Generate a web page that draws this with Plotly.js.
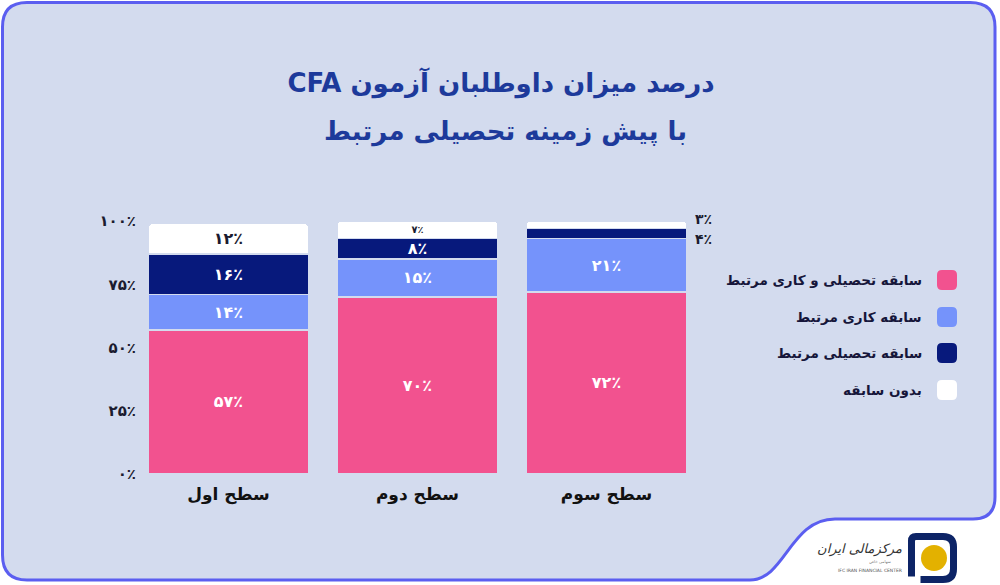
<!DOCTYPE html>
<html>
<head>
<meta charset="utf-8">
<script src="https://cdn.plot.ly/plotly-3.0.1.min.js"></script>
<style>
  html, body { margin:0; padding:0; background:#ffffff; width:1000px; height:585px; overflow:hidden; }
  #bg { position:absolute; left:0; top:0; }
  #chart { position:absolute; left:0; top:0; width:1000px; height:585px; }
</style>
</head>
<body>
<svg id="bg" width="1000" height="585" xmlns="http://www.w3.org/2000/svg">
  <path d="M 27 2.5 H 970 Q 995 2.5 995 27 V 497 Q 995 519 973 519 H 835 C 790 519, 785 580, 750 580 H 27 Q 2.5 580 2.5 555 V 27 Q 2.5 2.5 27 2.5 Z"
        fill="#d3dbee" stroke="#5b5ef0" stroke-width="3"/>
  <!-- logo -->
  <path d="M 911.5 573 V 541 Q 911.5 536.5 916 536.5 H 943 Q 953.5 536.5 953.5 547 V 569 Q 953.5 579.5 943 579.5 H 924"
        fill="none" stroke="#0d2466" stroke-width="7" stroke-linecap="square"/>
  <circle cx="934" cy="558" r="13" fill="#e3b100"/>
  <text x="902" y="553" text-anchor="end" font-family="DejaVu Sans" font-size="13" fill="#333" font-style="italic">مرکزمالی ایران</text>
  <text x="880" y="563" text-anchor="middle" font-family="DejaVu Sans" font-size="4" fill="#777">سهامی خاص</text>
  <text x="870" y="572" text-anchor="middle" font-family="DejaVu Sans" font-size="4.5" fill="#555">IFC IRAN FINANCIAL CENTER</text>
</svg>
<div id="chart"></div>
<script>
// ---- data ----
const categories = ['سطح اول', 'سطح دوم', 'سطح سوم'];
const bothRelated = [57, 70, 72];   // سابقه تحصیلی و کاری مرتبط
const workRelated = [14, 15, 21];   // سابقه کاری مرتبط
const eduRelated  = [16, 8, 4];     // سابقه تحصیلی مرتبط
const noBackground = [12, 7, 3];    // بدون سابقه
const seriesNames = ['سابقه تحصیلی و کاری مرتبط', 'سابقه کاری مرتبط', 'سابقه تحصیلی مرتبط', 'بدون سابقه'];
const yTickVals = [0, 25, 50, 75, 100];
const titleLine1 = 'درصد میزان داوطلبان آزمون CFA';
const titleLine2 = 'با پیش زمینه تحصیلی مرتبط';

// ---- styles ----
const seriesValues = [bothRelated, workRelated, eduRelated, noBackground];
const seriesColors = ['#f2528f', '#7593fb', '#07197c', '#ffffff'];
const textColors = ['#ffffff', '#ffffff', '#ffffff', '#1b1b2f'];
const bgColor = '#d3dbee';
const FONT = 'DejaVu Sans, sans-serif';

const faDigits = s => String(s).replace(/\d/g, d => '۰۱۲۳۴۵۶۷۸۹'[d]);
const pct = v => faDigits(v) + '٪';
const rtl = s => '\u202B' + s + '\u202C';

// pixel geometry of plot area
const L = 140, R = 701, T = 221, B = 474;
const px = x => (x - L) / (R - L);
const py = y => (B - y) / (B - T);

const barWidth = 0.85;
const traces = seriesValues.map((vals, i) => ({
  type: 'bar',
  name: seriesNames[i],
  x: categories.map((c, k) => k),
  y: vals,
  width: barWidth,
  marker: { color: seriesColors[i], line: { color: bgColor, width: 1.5 }, cornerradius: 4 },
  text: vals.map(v => v < 5 ? '' : pct(v)),
  textposition: 'inside',
  insidetextanchor: 'middle',
  textangle: 0,
  constraintext: 'none',
  textfont: { family: FONT, size: 16, color: textColors[i], weight: 'bold' },
  hoverinfo: 'skip',
  showlegend: false
}));

const annotations = [];
// small values shown outside at the right
seriesValues.forEach((vals, i) => {
  vals.forEach((v, k) => {
    if (v < 5) {
      let base = 0;
      for (let j = 0; j < i; j++) base += seriesValues[j][k];
      annotations.push({
        x: k + barWidth / 2, y: base + v / 2, xref: 'x', yref: 'y',
        text: pct(v), showarrow: false, xanchor: 'left', yanchor: 'middle',
        xshift: 6, yshift: (i === 3 ? 6 : -5),
        font: { family: FONT, size: 14, color: '#1b1b2f', weight: 'bold' }
      });
    }
  });
});

// title line 2
annotations.push({
  xref: 'paper', yref: 'paper', x: px(505), y: py(131),
  text: rtl(titleLine2), showarrow: false, xanchor: 'center', yanchor: 'middle',
  font: { family: FONT, size: 26, color: '#1d3a9b', weight: 'bold' }
});

// legend (swatch to the right of text)
const legendRowsY = [280, 317, 353, 390];
const shapes = [];
seriesNames.forEach((n, i) => {
  annotations.push({
    xref: 'paper', yref: 'paper', x: px(924), y: py(legendRowsY[i]),
    text: rtl(n), showarrow: false, xanchor: 'right', yanchor: 'middle',
    font: { family: FONT, size: 13.5, color: '#16163a', weight: 'bold' }
  });
  shapes.push({
    type: 'path', xref: 'paper', yref: 'paper',
    xsizemode: 'pixel', ysizemode: 'pixel',
    xanchor: px(947), yanchor: py(legendRowsY[i]),
    path: 'M -5 -10 H 5 Q 10 -10 10 -5 V 5 Q 10 10 5 10 H -5 Q -10 10 -10 5 V -5 Q -10 -10 -5 -10 Z',
    fillcolor: seriesColors[i], line: { width: 0 }
  });
});

const layout = {
  width: 1000, height: 585,
  margin: { l: L, r: 1000 - R, t: T, b: 585 - B, pad: 0 },
  paper_bgcolor: 'rgba(0,0,0,0)',
  plot_bgcolor: 'rgba(0,0,0,0)',
  barmode: 'stack',
  showlegend: false,
  title: {
    text: rtl(titleLine1),
    xref: 'container', yref: 'container', x: 0.501, y: 1 - 83 / 585,
    xanchor: 'center', yanchor: 'middle',
    font: { family: FONT, size: 26, color: '#1d3a9b', weight: 'bold' }
  },
  xaxis: {
    range: [-0.468, 2.5],
    tickvals: categories.map((c, k) => k),
    ticktext: categories,
    showgrid: false, zeroline: false, showline: false, ticks: '',
    ticklabelstandoff: 8,
    tickfont: { family: FONT, size: 17, color: '#111111', weight: 'bold' },
    fixedrange: true
  },
  yaxis: {
    range: [0, 100],
    tickvals: yTickVals,
    ticktext: yTickVals.map(pct),
    showgrid: false, zeroline: false, showline: false, ticks: '',
    ticklabelstandoff: 3,
    tickfont: { family: FONT, size: 15, color: '#1b1b2f', weight: 'bold' },
    fixedrange: true
  },
  annotations: annotations,
  shapes: shapes
};

Plotly.newPlot('chart', traces, layout, { displayModeBar: false, staticPlot: true });
</script>
</body>
</html>
